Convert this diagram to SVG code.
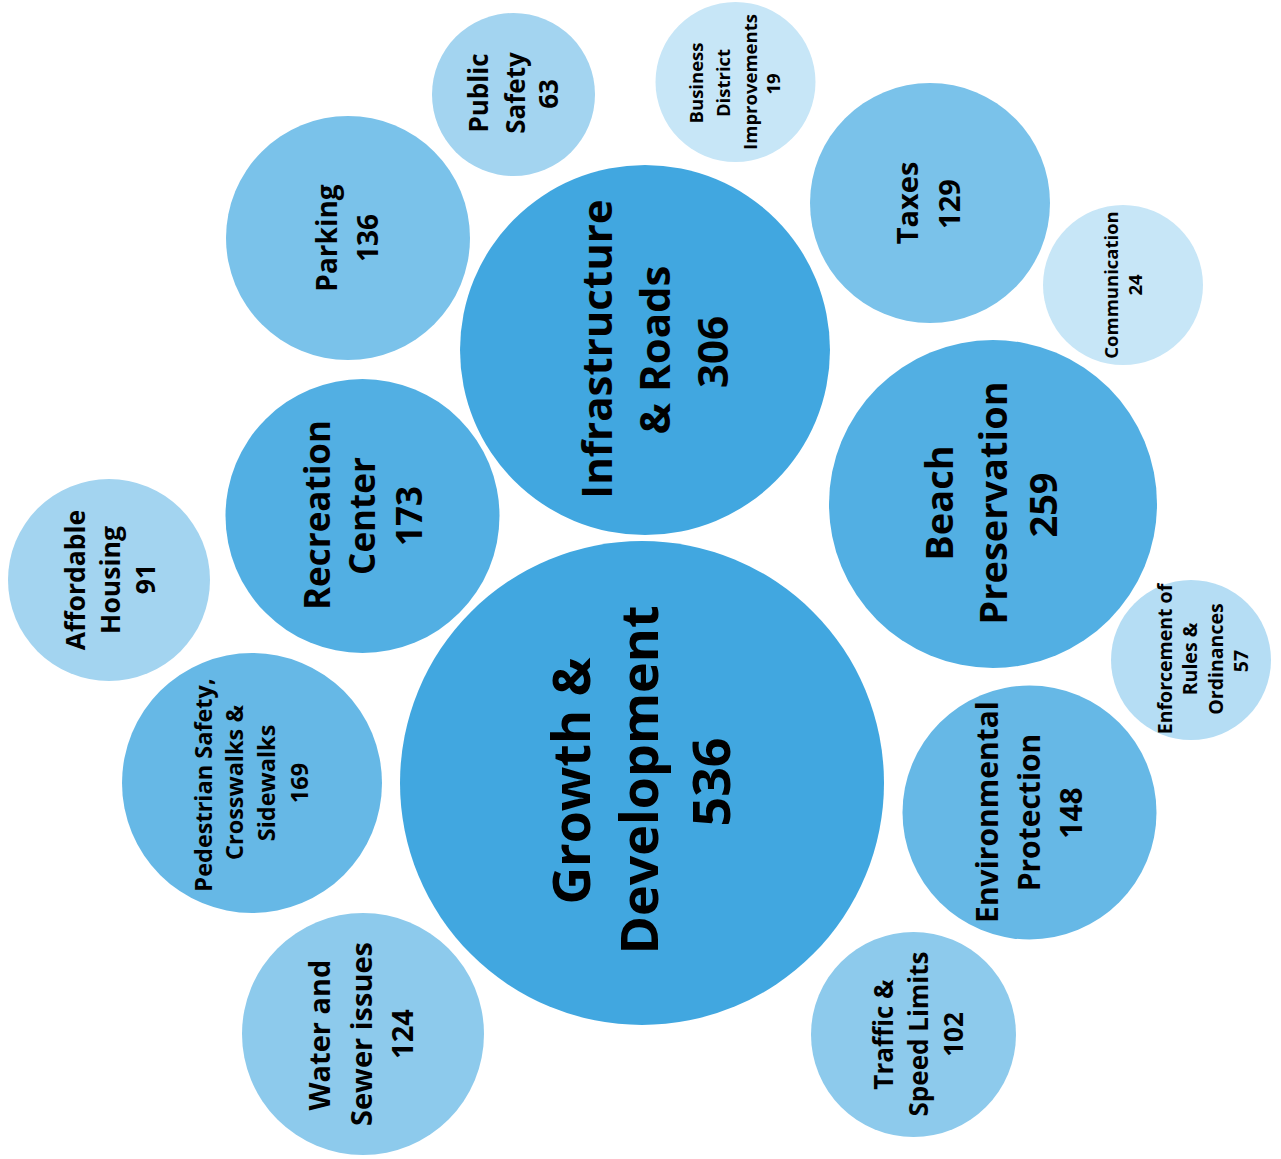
<svg xmlns="http://www.w3.org/2000/svg" width="1281" height="1159" viewBox="0 0 1281 1159">
<style>
text{font-family:"Open Sans","Liberation Sans",sans-serif;font-weight:700;fill:#000;text-anchor:middle}
.c1{fill:#41A7E0}.c2{fill:#52AFE3}.c3{fill:#66B8E6}.c4{fill:#7AC2EA}.c5{fill:#8DCAEC}.c6{fill:#A3D4F0}.c7{fill:#B5DDF4}.c8{fill:#C7E6F7}
</style>
<rect width="1281" height="1159" fill="#fff"/>
<g id="connectors"/>
<g id="growth">
<circle class="c1" cx="642" cy="783" r="242"/>
<text transform="rotate(-90)" font-size="52"><tspan x="-781" y="590">Growth &amp;</tspan><tspan x="-780" y="658">Development</tspan><tspan x="-782" y="730">536</tspan></text>
</g>
<g id="infrastructure">
<circle class="c1" cx="645" cy="350" r="185"/>
<text transform="rotate(-90)" font-size="42"><tspan x="-349" y="612">Infrastructure</tspan><tspan x="-350" y="670">&amp; Roads</tspan><tspan x="-352" y="728">306</tspan></text>
</g>
<g id="beach">
<circle class="c2" cx="993" cy="504" r="164"/>
<text transform="rotate(-90)" font-size="38"><tspan x="-503" y="953">Beach</tspan><tspan x="-503" y="1007">Preservation</tspan><tspan x="-505" y="1057">259</tspan></text>
</g>
<g id="recreation">
<circle class="c2" cx="362.5" cy="516" r="137"/>
<text transform="rotate(-90)" font-size="35"><tspan x="-515" y="330">Recreation</tspan><tspan x="-516" y="375">Center</tspan><tspan x="-516" y="422">173</tspan></text>
</g>
<g id="pedestrian">
<circle class="c3" cx="252" cy="783" r="130"/>
<text transform="rotate(-90)" font-size="23.5"><tspan x="-785" y="212">Pedestrian Safety,</tspan><tspan x="-782.5" y="243">Crosswalks &amp;</tspan><tspan x="-783" y="275">Sidewalks</tspan><tspan x="-783" y="308">169</tspan></text>
</g>
<g id="environmental">
<circle class="c3" cx="1029.5" cy="812.5" r="127"/>
<text transform="rotate(-90)" font-size="30"><tspan x="-812" y="998">Environmental</tspan><tspan x="-812.5" y="1040">Protection</tspan><tspan x="-813" y="1082">148</tspan></text>
</g>
<g id="parking">
<circle class="c4" cx="348" cy="238" r="122"/>
<text transform="rotate(-90)" font-size="28"><tspan x="-238" y="337">Parking</tspan><tspan x="-238" y="378">136</tspan></text>
</g>
<g id="taxes">
<circle class="c4" cx="930" cy="203" r="120"/>
<text transform="rotate(-90)" font-size="29"><tspan x="-203" y="918">Taxes</tspan><tspan x="-204" y="960">129</tspan></text>
</g>
<g id="water">
<circle class="c5" cx="363" cy="1034" r="121"/>
<text transform="rotate(-90)" font-size="29"><tspan x="-1035" y="330">Water and</tspan><tspan x="-1034" y="372">Sewer issues</tspan><tspan x="-1034" y="413">124</tspan></text>
</g>
<g id="traffic">
<circle class="c5" cx="913.5" cy="1034.5" r="102.5"/>
<text transform="rotate(-90)" font-size="26"><tspan x="-1034.5" y="893">Traffic &amp;</tspan><tspan x="-1034" y="928">Speed Limits</tspan><tspan x="-1034.5" y="963">102</tspan></text>
</g>
<g id="public-safety">
<circle class="c6" cx="513.5" cy="94.5" r="81.5"/>
<text transform="rotate(-90)" font-size="26"><tspan x="-93" y="488">Public</tspan><tspan x="-93" y="525">Safety</tspan><tspan x="-94" y="558">63</tspan></text>
</g>
<g id="affordable-housing">
<circle class="c6" cx="109" cy="580" r="101"/>
<text transform="rotate(-90)" font-size="26.5"><tspan x="-580" y="85">Affordable</tspan><tspan x="-580" y="120">Housing</tspan><tspan x="-579" y="155">91</tspan></text>
</g>
<g id="enforcement">
<circle class="c7" cx="1191" cy="660" r="80"/>
<text transform="rotate(-90)" font-size="19.5"><tspan x="-659" y="1172">Enforcement of</tspan><tspan x="-659" y="1197">Rules &amp;</tspan><tspan x="-659" y="1223">Ordinances</tspan><tspan x="-661" y="1248">57</tspan></text>
</g>
<g id="business">
<circle class="c8" cx="735.5" cy="82" r="80"/>
<text transform="rotate(-90)" font-size="18.5"><tspan x="-83" y="703">Business</tspan><tspan x="-83" y="730">District</tspan><tspan x="-82" y="757">Improvements</tspan><tspan x="-84" y="780">19</tspan></text>
</g>
<g id="communication">
<circle class="c8" cx="1123" cy="285" r="80"/>
<text transform="rotate(-90)" font-size="18.5"><tspan x="-285" y="1118">Communication</tspan><tspan x="-285" y="1142">24</tspan></text>
</g>
</svg>
